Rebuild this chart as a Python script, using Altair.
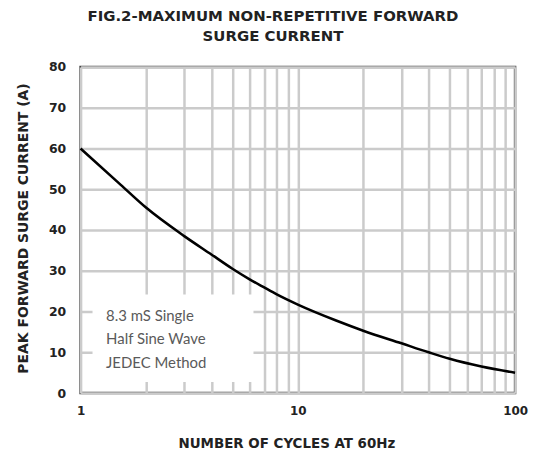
import altair as alt
import pandas as pd

# Curve data
cycles = [1, 1.5, 2, 3, 4, 5, 6, 7, 8, 10, 15, 20, 30, 40, 50, 70, 100]
current = [60, 51.5, 45.5, 38.5, 34, 30.5, 27.9, 25.9, 24.2, 21.7, 17.8, 15.3, 12.2, 10, 8.4, 6.5, 5]

# Annotation box (data coordinates) and text
box_x = [1.135]
box_x2 = [6.25]
box_y = [2.7]
box_y2 = [24.2]
note_lines = ["8.3 mS Single", "Half Sine Wave", "JEDEC Method"]
note_x = [1.31]
note_y = [18.9]

x_ticks = [1, 10, 100]
y_ticks = [0, 10, 20, 30, 40, 50, 60, 70, 80]
minor = [1, 2, 3, 4, 5, 6, 7, 8, 9, 10, 20, 30, 40, 50, 60, 70, 80, 90, 100]

df = pd.DataFrame({"cycles": cycles, "current": current})
box_df = pd.DataFrame({"x": box_x, "x2": box_x2, "y": box_y, "y2": box_y2})
note_df = pd.DataFrame({"x": note_x, "y": note_y, "t": [note_lines]})

xscale = alt.Scale(type="log", domain=[1, 100], nice=False)
yscale = alt.Scale(domain=[0, 80], nice=False)

FONT = "DejaVu Sans"

xaxis = alt.Axis(
    values=minor, labelExpr="indexof([1,10,100], datum.value) >= 0 ? datum.label : ''",
    format="d", grid=True, gridColor="#cbcbcb", gridWidth=2.5, domain=False, ticks=False,
    labelFont=FONT, labelFontWeight="bold", labelFontSize=12, labelColor="#222",
    labelPadding=13, labelFlush=False,
    title="NUMBER OF CYCLES AT 60Hz", titleFont=FONT, titleFontWeight="bold",
    titleFontSize=13.5, titleColor="#222", titleX=207, titleY=51, titleBaseline="middle",
    titleAlign="center",
)
yaxis = alt.Axis(
    values=y_ticks, grid=True, gridColor="#cbcbcb", gridWidth=2.5, domain=False, ticks=False,
    labelFont=FONT, labelFontWeight="bold", labelFontSize=12.5, labelColor="#222",
    labelPadding=15,
    title="PEAK FORWARD SURGE CURRENT (A)", titleFont=FONT, titleFontWeight="bold",
    titleFontSize=14, titleColor="#222", titleX=-57, titleY=162, titleAngle=270,
    titleBaseline="middle", titleAlign="center",
)

line = alt.Chart(df).mark_line(color="black", strokeWidth=2.6, interpolate="monotone").encode(
    x=alt.X("cycles:Q", scale=xscale, axis=xaxis),
    y=alt.Y("current:Q", scale=yscale, axis=yaxis),
)

box = alt.Chart(box_df).mark_rect(color="white").encode(
    x=alt.X("x:Q", scale=xscale), x2="x2:Q",
    y=alt.Y("y:Q", scale=yscale), y2="y2:Q",
)

note = alt.Chart(note_df).mark_text(
    align="left", baseline="middle", font="Lato", fontSize=15, color="#5a5a5a", lineHeight=23.5,
).encode(
    x=alt.X("x:Q", scale=xscale), y=alt.Y("y:Q", scale=yscale), text="t"
)

chart = alt.layer(box, line, note).properties(
    width=437, height=328,
    title=alt.TitleParams(
        text=["FIG.2-MAXIMUM NON-REPETITIVE FORWARD", "SURGE CURRENT"],
        font=FONT, fontSize=15, fontWeight="bold", color="#222",
        anchor="middle", frame="group", dx=-25, offset=17, lineHeight=20,
    ),
    autosize=alt.AutoSizeParams(type="none"),
    padding={"left": 73, "top": 58, "right": 14, "bottom": 57},
).configure_view(stroke="#444", strokeWidth=2.5)

chart.save("out.html", embed_options={"renderer": "svg", "actions": False})
